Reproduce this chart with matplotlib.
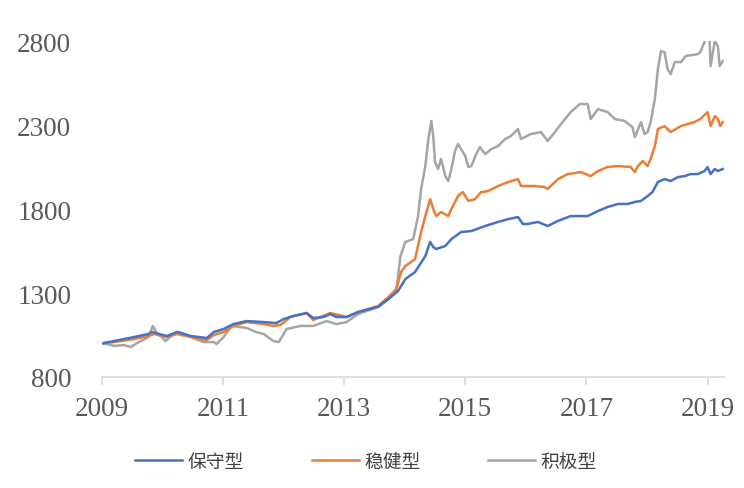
import matplotlib.pyplot as plt
from matplotlib import rcParams

rcParams['font.family'] = ['Liberation Serif', 'Noto Sans CJK SC']

# values (decimal year, index level)
t_bao = [2009.00, 2009.20, 2009.53, 2009.77, 2009.82, 2010.07, 2010.24, 2010.47, 2010.73, 2010.85,
         2011.01, 2011.17, 2011.39, 2011.67, 2011.88, 2012.00, 2012.16, 2012.38, 2012.49, 2012.66,
         2012.77, 2012.87, 2013.04, 2013.23, 2013.56, 2013.73, 2013.89, 2014.01, 2014.17, 2014.34,
         2014.42, 2014.47, 2014.52, 2014.67, 2014.77, 2014.93, 2015.10, 2015.33, 2015.54, 2015.71,
         2015.87, 2015.95, 2016.03, 2016.20, 2016.36, 2016.53, 2016.74, 2017.02, 2017.19, 2017.35,
         2017.52, 2017.68, 2017.80, 2017.90, 2018.01, 2018.09, 2018.18, 2018.29, 2018.39, 2018.51,
         2018.62, 2018.72, 2018.84, 2018.95, 2019.00, 2019.05, 2019.12, 2019.17, 2019.25]
v_bao = [1000, 1014, 1038, 1056, 1068, 1044, 1068, 1044, 1032, 1068,
         1086, 1115, 1133, 1127, 1121, 1145, 1163, 1181, 1151, 1157,
         1175, 1157, 1157, 1187, 1217, 1264, 1312, 1383, 1425, 1520,
         1604, 1574, 1562, 1580, 1621, 1663, 1669, 1699, 1723, 1740,
         1752, 1711, 1711, 1723, 1699, 1729, 1758, 1758, 1788, 1812,
         1830, 1830, 1842, 1848, 1877, 1901, 1961, 1978, 1967, 1990,
         1996, 2008, 2008, 2026, 2050, 2008, 2038, 2026, 2038]

t_wen = [2009.00, 2009.20, 2009.53, 2009.77, 2009.86, 2010.07, 2010.24, 2010.47, 2010.73, 2010.85,
         2011.01, 2011.17, 2011.39, 2011.67, 2011.83, 2011.95, 2012.11, 2012.38, 2012.49, 2012.77,
         2013.04, 2013.23, 2013.56, 2013.73, 2013.86, 2013.94, 2014.01, 2014.17, 2014.27, 2014.34,
         2014.42, 2014.47, 2014.52, 2014.60, 2014.72, 2014.77, 2014.88, 2014.96, 2015.05, 2015.16,
         2015.26, 2015.38, 2015.54, 2015.71, 2015.87, 2015.92, 2016.15, 2016.31, 2016.36, 2016.53,
         2016.69, 2016.91, 2017.07, 2017.19, 2017.35, 2017.52, 2017.73, 2017.80, 2017.85, 2017.93,
         2018.01, 2018.06, 2018.13, 2018.18, 2018.29, 2018.39, 2018.56, 2018.67, 2018.79, 2018.88,
         2019.00, 2019.05, 2019.12, 2019.17, 2019.21, 2019.25]
v_wen = [1000, 1008, 1026, 1044, 1056, 1038, 1056, 1038, 1020, 1050,
         1068, 1104, 1127, 1115, 1104, 1110, 1157, 1181, 1139, 1181,
         1157, 1187, 1223, 1276, 1324, 1425, 1461, 1502, 1663, 1758,
         1859, 1800, 1758, 1782, 1758, 1800, 1877, 1901, 1848, 1859,
         1901, 1907, 1937, 1961, 1978, 1937, 1937, 1931, 1919, 1978,
         2008, 2020, 1996, 2026, 2050, 2056, 2050, 2020, 2056, 2086,
         2056, 2098, 2175, 2276, 2294, 2258, 2294, 2306, 2318, 2336,
         2377, 2294, 2353, 2336, 2294, 2318]

t_ji = [2009.00, 2009.08, 2009.20, 2009.36, 2009.48, 2009.61, 2009.77, 2009.84, 2009.91, 2009.97,
        2010.05, 2010.19, 2010.27, 2010.47, 2010.68, 2010.85, 2010.89, 2011.01, 2011.14, 2011.39,
        2011.54, 2011.67, 2011.83, 2011.92, 2012.05, 2012.28, 2012.49, 2012.71, 2012.87, 2013.04,
        2013.23, 2013.56, 2013.73, 2013.86, 2013.93, 2014.01, 2014.14, 2014.22, 2014.27, 2014.34,
        2014.39, 2014.44, 2014.47, 2014.50, 2014.55, 2014.60, 2014.67, 2014.72, 2014.77, 2014.83,
        2014.88, 2014.93, 2015.00, 2015.05, 2015.10, 2015.18, 2015.24, 2015.33, 2015.43, 2015.54,
        2015.66, 2015.75, 2015.87, 2015.92, 2016.08, 2016.25, 2016.36, 2016.48, 2016.58, 2016.74,
        2016.89, 2017.02, 2017.07, 2017.19, 2017.35, 2017.47, 2017.63, 2017.76, 2017.80, 2017.90,
        2017.96, 2018.01, 2018.06, 2018.13, 2018.18, 2018.23, 2018.29, 2018.34, 2018.39, 2018.46,
        2018.56, 2018.64, 2018.84, 2018.88, 2018.97, 2019.03, 2019.05, 2019.12, 2019.17, 2019.20,
        2019.25]
v_ji = [1000, 996, 985, 990, 979, 1008, 1038, 1104, 1056, 1044,
        1014, 1056, 1068, 1038, 1008, 1008, 996, 1038, 1104, 1092,
        1068, 1056, 1014, 1008, 1086, 1104, 1104, 1133, 1115, 1127,
        1175, 1217, 1264, 1312, 1520, 1604, 1621, 1758, 1919, 2056,
        2217, 2324, 2234, 2080, 2038, 2098, 1996, 1967, 2038, 2145,
        2187, 2157, 2115, 2050, 2056, 2127, 2169, 2127, 2157, 2175,
        2217, 2234, 2276, 2217, 2246, 2258, 2205, 2258, 2306, 2377,
        2425, 2425, 2336, 2395, 2377, 2336, 2324, 2288, 2228, 2318,
        2246, 2258, 2318, 2455, 2633, 2740, 2734, 2633, 2603, 2675,
        2675, 2711, 2722, 2734, 2812, 2842, 2651, 2800, 2770, 2651,
        2681]

labels = ['保守型', '稳健型', '积极型']
colors = ['#4472C4', '#ED7D31', '#A5A5A5']
yticks = [800, 1300, 1800, 2300, 2800]
xticks = [2009, 2011, 2013, 2015, 2017, 2019]

fig = plt.figure(figsize=(7.44, 4.89), dpi=100)
ax = fig.add_axes([0.137, 0.227, 0.836, 0.687])

ax.plot(t_bao, v_bao, color=colors[0], lw=1.8, label=labels[0], zorder=3)
ax.plot(t_wen, v_wen, color=colors[1], lw=1.8, label=labels[1], zorder=2)
ax.plot(t_ji, v_ji, color=colors[2], lw=1.8, label=labels[2], zorder=1)

ax.set_xlim(2009, 2019.27)
ax.set_ylim(800, 2800)
ax.set_yticks(yticks)
ax.set_xticks(xticks)
ax.set_xticklabels([str(x) for x in xticks])

for s in ['top', 'right', 'left']:
    ax.spines[s].set_visible(False)
ax.spines['bottom'].set_color('#d9d9d9')
ax.spines['bottom'].set_linewidth(1.2)
ax.tick_params(axis='y', length=0, labelsize=19.5, colors='#595959', pad=22)
ax.tick_params(axis='x', direction='out', length=6, width=1.2, color='#d9d9d9',
               labelsize=19.5, labelcolor='#595959', pad=8)

leg = fig.legend(loc='center', bbox_to_anchor=(0.492, 0.055), ncol=3, frameon=False,
                 prop={'family': 'Noto Sans CJK SC', 'size': 13.5}, handlelength=2.5,
                 columnspacing=3.6, handletextpad=0.3)
for txt in leg.get_texts():
    txt.set_color('#404040')

fig.savefig('out.png', dpi=100)
